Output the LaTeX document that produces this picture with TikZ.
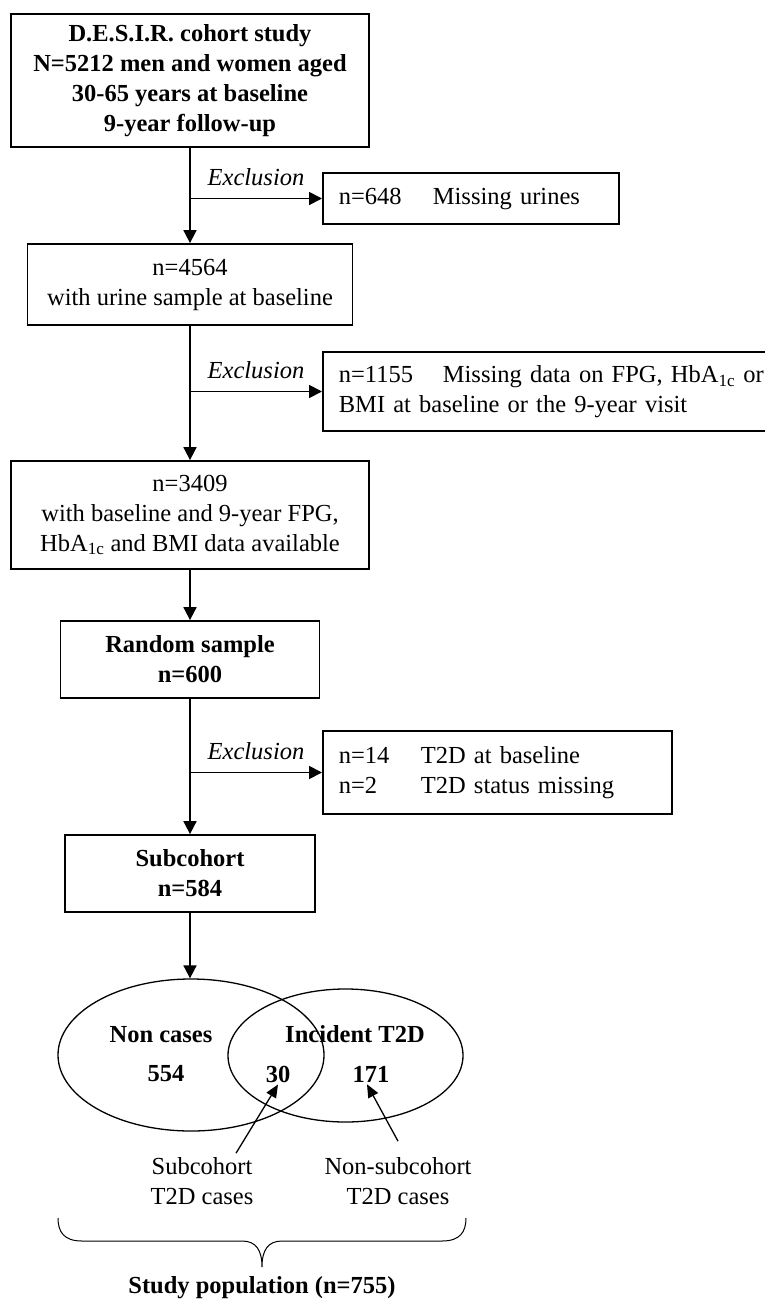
\documentclass[tikz,border=0pt]{standalone}
\usepackage{fontspec}
\setmainfont{Liberation Serif}
\usepackage{tikz}
\usetikzlibrary{positioning,shapes.geometric,arrows.meta}

\newcommand{\diagfont}{\fontsize{24.5}{30}\selectfont}

\begin{document}
\begin{tikzpicture}[x=1pt,y=-1pt,font=\diagfont,
    box/.style={draw, line width=1.8pt, align=center, inner sep=4pt},
    bold/.style={font=\diagfont\bfseries},
    exbox/.style={draw, line width=1.8pt, anchor=west, align=left, inner xsep=16pt},
    arr/.style={line width=1.8pt, -{Triangle[length=13pt,width=13pt]}},
    thinarr/.style={line width=1.3pt, -{Triangle[length=13pt,width=11pt]}},
    oval/.style={draw, ellipse, line width=1.3pt, inner sep=0pt},
    num/.style={font=\diagfont\bfseries, inner sep=2pt},
    lbl/.style={above=9pt, inner sep=3pt, font=\diagfont\itshape}]
    \useasboundingbox (0,0) rectangle (765,1300);

    % Boxes
    \node[box, bold, minimum width=358pt, minimum height=133pt] (cohort) at (190,80.5)
        {D.E.S.I.R. cohort study\\N=5212 men and women aged\\30-65 years at baseline\\9-year follow-up};
    \node[exbox, minimum height=51pt, text width=264pt] (excl1) at (322,198.5)
        {\makebox[94pt][l]{n=648}Missing urines};
    \node[box, minimum width=325pt, minimum height=81pt] (urine) at (190,284.5)
        {n=4564\\with urine sample at baseline};
    \node[exbox, minimum height=79pt, text width=440pt] (excl2) at (322,391.5)
        {\makebox[104pt][l]{n=1155}Missing data on FPG, HbA\textsubscript{1c} or\\BMI at baseline or the 9-year visit};
    \node[box, minimum width=358pt, minimum height=108pt] (avail) at (190,515)
        {n=3409\\with baseline and 9-year FPG,\\HbA\textsubscript{1c} and BMI data available};
    \node[box, bold, minimum width=259pt, minimum height=77pt] (random) at (190,659.5)
        {Random sample\\n=600};
    \node[exbox, minimum height=83pt, text width=317pt] (excl3) at (322,772.5)
        {\makebox[82pt][l]{n=14}T2D at baseline\\\makebox[82pt][l]{n=2}T2D status missing};
    \node[box, bold, minimum width=250pt, minimum height=77pt] (subco) at (190,873.5)
        {Subcohort\\n=584};

    % Venn part
    \node[oval, minimum width=266pt, minimum height=152pt] (noncase) at (191,1055) {};
    \node[oval, minimum width=235pt, minimum height=133pt] (incid) at (345.5,1055.5) {};
    \node[num] (lblnon) at (161,1035) {Non cases};
    \node[num] (lblinc) at (355,1034) {Incident T2D};
    \node[num] (n554) at (166,1074) {554};
    \node[num] (n30) at (278,1074) {30};
    \node[num] (n171) at (371,1074) {171};
    \node[align=center, inner sep=2pt] (subtxt) at (202,1181) {Subcohort\\T2D cases};
    \node[align=center, inner sep=2pt] (nonsubtxt) at (398,1181) {Non-subcohort\\T2D cases};
    \node[bold, anchor=base] (studypop) at (262,1293) {Study population (n=755)};

    % Lines
    \draw[arr] (cohort.south) -- (urine.north);
    \draw[arr] (urine.south) -- (avail.north);
    \draw[arr] (avail.south) -- (random.north);
    \draw[arr] (random.south) -- (subco.north);
    \draw[arr] (subco.south) -- (subco.south |- noncase.north);

    \draw[arr] (cohort.south |- excl1.west) -- node[lbl] (exlab1) {Exclusion} (excl1.west);
    \draw[arr] (urine.south |- excl2.west) -- node[lbl] (exlab2) {Exclusion} (excl2.west);
    \draw[arr] (random.south |- excl3.west) -- node[lbl] (exlab3) {Exclusion} (excl3.west);

    \draw[thinarr] ([xshift=34pt,yshift=2pt]subtxt.north) -- (n30.south);
    \draw[thinarr] ([yshift=14pt]nonsubtxt.north) -- ([xshift=-4pt]n171.south);

    % brace under the study population
    \draw[line width=1pt] (58,1218) .. controls (58,1232) and (64,1241) .. (82,1241) -- (242,1241)
        .. controls (256,1241) and (262,1250) .. (262,1267)
        .. controls (262,1250) and (268,1241) .. (282,1241) -- (442,1241)
        .. controls (460,1241) and (466,1232) .. (466,1218);
\end{tikzpicture}
\end{document}
